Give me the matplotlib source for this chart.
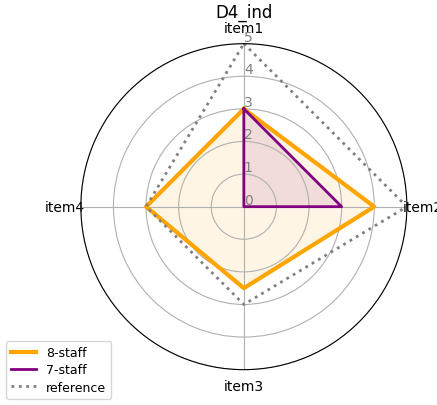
import numpy as np
import matplotlib
matplotlib.use("Agg")
import matplotlib.pyplot as plt

categories = ["item1", "item2", "item3", "item4"]
staff8 = [3, 4, 2.5, 3]
staff7 = [3, 3, 0, 0]
reference = [5, 5, 3, 3]
r_ticks = [0, 1, 2, 3, 4, 5]

n = len(categories)
angles = np.linspace(0, 2 * np.pi, n, endpoint=False).tolist()
angles_closed = angles + angles[:1]


def closed(vals):
    return list(vals) + list(vals[:1])


fig = plt.figure(figsize=(4.37, 4.06), dpi=100)
ax = fig.add_axes([0.185, 0.087, 0.746, 0.803], projection="polar")
ax.set_theta_offset(np.pi / 2)
ax.set_theta_direction(-1)

ax.plot(angles_closed, closed(staff8), color="orange", linewidth=3, label="8-staff")
ax.fill(angles_closed, closed(staff8), color="orange", alpha=0.1)
ax.plot(angles_closed, closed(staff7), color="purple", linewidth=2, label="7-staff")
ax.fill(angles_closed, closed(staff7), color="purple", alpha=0.1)
ax.plot(angles_closed, closed(reference), color="gray", linewidth=2,
        linestyle=":", label="reference")

ax.set_xticks(angles)
ax.set_xticklabels(categories, fontsize=10)
ax.tick_params(axis="x", pad=1)
ax.set_ylim(0, 5)
ax.set_yticks(r_ticks)
ax.set_yticklabels([str(t) for t in r_ticks], color="gray", fontsize=10)
ax.set_rlabel_position(0)
ax.set_title("D4_ind", fontsize=12, pad=2)

ax.legend(loc="lower left", bbox_to_anchor=(0.0, 0.0),
          bbox_transform=fig.transFigure, fontsize=9,
          labelspacing=0.35, handlelength=2.0)

fig.savefig("out.png", dpi=100)
